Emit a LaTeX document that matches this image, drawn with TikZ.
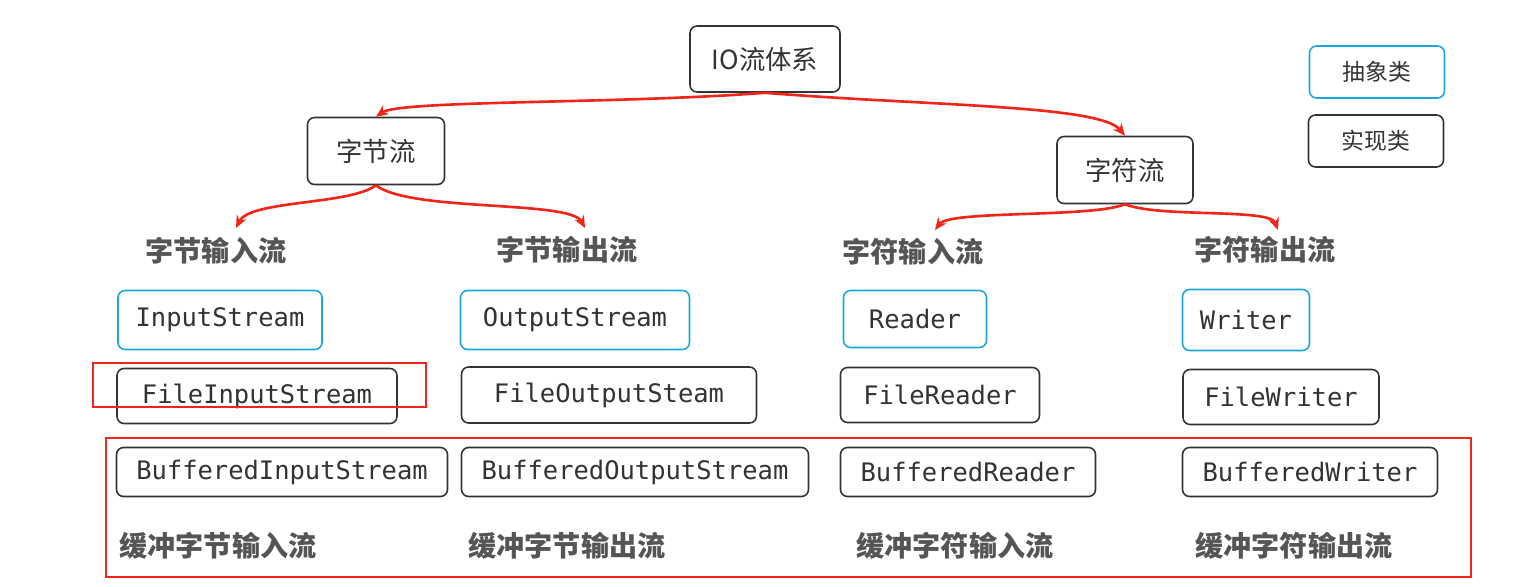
\documentclass[tikz,border=0pt]{standalone}
\usepackage{fontspec}
\setmonofont{DejaVu Sans Mono}
\newfontfamily\cjk{Noto Sans CJK SC}
\usetikzlibrary{positioning, arrows.meta}
\definecolor{boxline}{HTML}{333333}
\definecolor{abscyan}{HTML}{1BA9DD}
\definecolor{labgray}{HTML}{555555}
\definecolor{flowred}{HTML}{F0261A}
\tikzset{
  impl/.style={draw=boxline, rounded corners=4pt, line width=0.9pt, inner sep=0pt, text=boxline, font=\ttfamily\fontsize{14.5}{14.5}\selectfont},
  abst/.style={impl, draw=abscyan},
  top/.style={impl, font=\cjk\fontsize{15}{15}\selectfont},
  lab/.style={text=labgray, font=\cjk\bfseries\fontsize{16}{16}\selectfont},
  flow/.style={draw=flowred, line width=1.5pt, -{Stealth[length=7pt,width=6pt]}},
  hilite/.style={draw=flowred, line width=1.3pt}
}
\begin{document}
\begin{tikzpicture}[x=0.02cm, y=-0.02cm]
\useasboundingbox (0,0) rectangle (1529,586);
% top level
\node[top, minimum width=3cm, minimum height=1.32cm] (io) at (765,59) {IO流体系};
\node[top, minimum width=2.74cm, minimum height=1.34cm] (byte) at (376,151) {字节流};
\node[top, minimum width=2.72cm, minimum height=1.34cm] (char) at (1125,170) {字符流};
% legend
\node[abst, font=\cjk\fontsize{13}{13}\selectfont, minimum width=2.7cm, minimum height=1.04cm] (legA) at (1377,72) {抽象类};
\node[impl, font=\cjk\fontsize{13}{13}\selectfont, minimum width=2.7cm, minimum height=1.04cm] (legI) at (1376,141) {实现类};
% category labels
\node[lab] (bin) at (216,251) {字节输入流};
\node[lab] (bout) at (567,250) {字节输出流};
\node[lab] (cin) at (913,252) {字符输入流};
\node[lab] (cout) at (1265,250) {字符输出流};
% abstract classes
\node[abst, minimum width=4.08cm, minimum height=1.18cm] (is) at (220,320) {InputStream};
\node[abst, minimum width=4.58cm, minimum height=1.18cm] (os) at (575,320) {OutputStream};
\node[abst, minimum width=2.86cm, minimum height=1.14cm] (rd) at (915,319) {Reader};
\node[abst, minimum width=2.54cm, minimum height=1.22cm] (wr) at (1246,320) {Writer};
% file classes
\node[impl, minimum width=5.6cm, minimum height=1.1cm] (fis) at (257,396) {FileInputStream};
\node[impl, minimum width=5.9cm, minimum height=1.12cm] (fos) at (609,395) {FileOutputSteam};
\node[impl, minimum width=3.98cm, minimum height=1.1cm] (frd) at (940,395) {FileReader};
\node[impl, minimum width=3.92cm, minimum height=1.1cm] (fwr) at (1281,397) {FileWriter};
% buffered classes
\node[impl, minimum width=6.62cm, minimum height=0.98cm] (bis) at (282,472) {BufferedInputStream};
\node[impl, minimum width=6.94cm, minimum height=0.98cm] (bos) at (635,472) {BufferedOutputStream};
\node[impl, minimum width=5.1cm, minimum height=0.98cm] (brd) at (968,472) {BufferedReader};
\node[impl, minimum width=5.1cm, minimum height=0.98cm] (bwr) at (1310,472) {BufferedWriter};
\node[lab] (lbis) at (218,546) {缓冲字节输入流};
\node[lab] (lbos) at (567,546) {缓冲字节输出流};
\node[lab] (lbrd) at (955,546) {缓冲字符输入流};
\node[lab] (lbwr) at (1294,546) {缓冲字符输出流};
% flows
\draw[flow] (io.south) .. controls (620,104) and (400,100) .. (byte.north);
\draw[flow] (io.south) .. controls (930,106) and (1100,105) .. (char.north);
\coordinate (binT) at (236,228);
\coordinate (boutT) at (585,228);
\coordinate (cinT) at (935,230);
\coordinate (coutT) at (1278,230);
\draw[flow] (byte.south) .. controls (350,205) and (250,200) .. (binT);
\draw[flow] (byte.south) .. controls (410,212) and (570,200) .. (boutT);
\draw[flow] (char.south) .. controls (1090,218) and (950,210) .. (cinT);
\draw[flow] (char.south) .. controls (1160,218) and (1270,208) .. (coutT);
% highlights
\draw[hilite] (93,363) rectangle (426,407);
\draw[hilite] (106,438) rectangle (1471,577);
\end{tikzpicture}
\end{document}
